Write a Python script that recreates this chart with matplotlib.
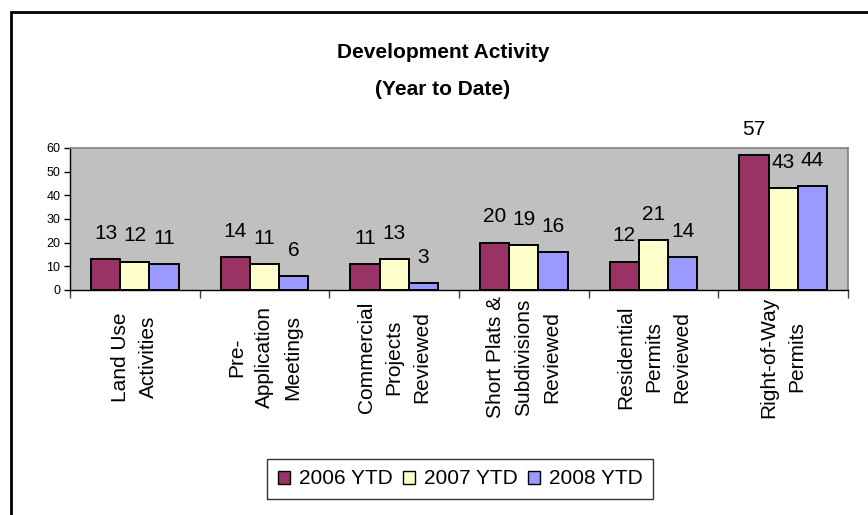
import numpy as np
import matplotlib
matplotlib.use("Agg")
import matplotlib.pyplot as plt
from matplotlib.patches import Rectangle, Patch

plt.rcParams['font.family'] = ['Liberation Sans', 'DejaVu Sans']

categories = ["Land Use\nActivities", "Pre-\nApplication\nMeetings",
              "Commercial\nProjects\nReviewed", "Short Plats &\nSubdivisions\nReviewed",
              "Residential\nPermits\nReviewed", "Right-of-Way\nPermits"]
series_names = ["2006 YTD", "2007 YTD", "2008 YTD"]
ytd_2006 = [13, 14, 11, 20, 12, 57]
ytd_2007 = [12, 11, 13, 19, 21, 43]
ytd_2008 = [11, 6, 3, 16, 14, 44]
colors = ['#993366', '#FFFFCC', '#9999FF']

W, H = 868, 515
fig = plt.figure(figsize=(W / 100, H / 100), dpi=100)
ax = fig.add_axes([70 / W, 1 - 290 / H, (848 - 70) / W, 142 / H])
ax.set_facecolor('#C0C0C0')

x = np.arange(len(categories)) + 0.5
bw = 0.226
for i, (vals, c) in enumerate(zip([ytd_2006, ytd_2007, ytd_2008], colors)):
    pos = x + (i - 1) * bw
    ax.bar(pos, vals, width=bw, color=c, edgecolor='black', linewidth=1.4, zorder=3)
    for px, v in zip(pos, vals):
        ax.annotate(str(v), (px, v), xytext=(0, 18.5), textcoords='offset points',
                    ha='center', va='center', fontsize=15, annotation_clip=False)

ax.set_xlim(0, len(categories))
ax.set_ylim(0, 60)
ax.set_yticks(range(0, 61, 10))
ax.set_xticks(range(len(categories) + 1))
ax.set_xticklabels([])
ax.tick_params(axis='y', labelsize=9, length=4, width=1, direction='out', pad=3)
ax.tick_params(axis='x', length=6, width=1, direction='out', color='#404040')
for s in ['top', 'right']:
    ax.spines[s].set_color('#808080')
    ax.spines[s].set_linewidth(1.2)
for s in ['left', 'bottom']:
    ax.spines[s].set_color('black')
    ax.spines[s].set_linewidth(1)

for xc, lab in zip(x, categories):
    ax.text(xc, -0.472, lab, transform=ax.get_xaxis_transform(), rotation=90,
            ha='center', va='center', multialignment='center', fontsize=15,
            linespacing=1.6)

fig.text(443 / W, 1 - 52 / H, "Development Activity", ha='center', va='center',
         fontsize=15, fontweight='bold')
fig.text(443 / W, 1 - 89 / H, "(Year to Date)", ha='center', va='center',
         fontsize=15, fontweight='bold')

handles = [Patch(facecolor=c, edgecolor='black', linewidth=1, label=n)
           for c, n in zip(colors, series_names)]
leg = fig.legend(handles=handles, loc='center', bbox_to_anchor=(460 / W, 1 - 479 / H),
                 ncol=3, fontsize=15, frameon=True, fancybox=False, edgecolor='black',
                 handlelength=0.6, handleheight=0.6, handletextpad=0.4,
                 columnspacing=0.5, borderpad=0.5)
leg.get_frame().set_linewidth(1)

fig.patches.append(Rectangle((11 / W, -0.5), 2, 1.5 - 12 / H, transform=fig.transFigure,
                             fill=False, edgecolor='black', linewidth=2, clip_on=False))

fig.savefig('out.png', dpi=100)
